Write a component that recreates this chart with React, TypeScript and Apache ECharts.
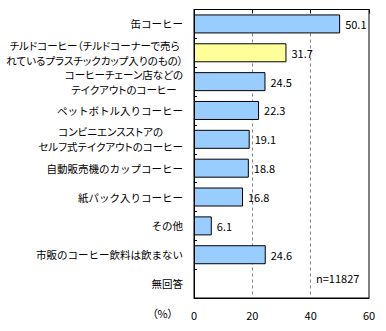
import React, { useEffect, useRef } from "react";
import * as echarts from "echarts";

const categories: string[] = [
  "缶コーヒー",
  "チルドコーヒー（チルドコーナーで売ら\nれているプラスチックカップ入りのもの）",
  "コーヒーチェーン店などの\nテイクアウトのコーヒー",
  "ペットボトル入りコーヒー",
  "コンビニエンスストアの\nセルフ式テイクアウトのコーヒー",
  "自動販売機のカップコーヒー",
  "紙パック入りコーヒー",
  "その他",
  "市販のコーヒー飲料は飲まない",
  "無回答",
];
const values: (number | null)[] = [50.1, 31.7, 24.5, 22.3, 19.1, 18.8, 16.8, 6.1, 24.6, null];
const highlightIndex = 1;
const xTicks = { min: 0, max: 60, interval: 20 };
const unitLabel = "（%）";
const sampleLabel = "n=11827";

const FONT = "'Noto Sans CJK JP', 'Noto Sans', sans-serif";

let measureSpan: HTMLSpanElement | null = null;
function measureText(text: string, font?: string) {
  if (!measureSpan) {
    measureSpan = document.createElement("span");
    const s = measureSpan.style;
    s.position = "absolute";
    s.left = "-9999px";
    s.top = "-9999px";
    s.visibility = "hidden";
    s.whiteSpace = "pre";
    document.body.appendChild(measureSpan);
  }
  measureSpan.style.font = font || "12px sans-serif";
  measureSpan.style.fontFeatureSettings = '"palt"';
  measureSpan.textContent = text;
  return { width: measureSpan.getBoundingClientRect().width };
}

export default function App() {
  const ref = useRef<HTMLDivElement>(null);
  useEffect(() => {
    if (!ref.current) return;
    (echarts as any).setPlatformAPI({ measureText });
    const chart = echarts.init(ref.current, undefined, { renderer: "svg" });
    chart.setOption({
      animation: false,
      textStyle: { fontFamily: FONT },
      grid: {
        left: 194,
        right: 17,
        top: 9.5,
        bottom: 33,
        containLabel: false,
        outerBoundsMode: "none",
        show: true,
        borderColor: "#000",
        borderWidth: 1,
        backgroundColor: "transparent",
      },
      xAxis: [
        {
          type: "value",
          position: "bottom",
          min: xTicks.min,
          max: xTicks.max,
          interval: xTicks.interval,
          axisLine: { show: true, lineStyle: { color: "#000", width: 1 } },
          axisTick: { show: false },
          axisLabel: { color: "#000", fontSize: 11, margin: 11, fontFamily: FONT },
          splitLine: {
            show: true,
            showMinLine: false,
            showMaxLine: false,
            lineStyle: { color: "#808080", type: [3, 3], width: 1 },
          },
        },
        {
          type: "value",
          position: "top",
          min: xTicks.min,
          max: xTicks.max,
          interval: xTicks.interval,
          axisLine: { show: true, lineStyle: { color: "#000", width: 1 } },
          axisTick: { show: true, inside: true, length: 4, lineStyle: { color: "#000" } },
          axisLabel: { show: false },
          splitLine: { show: false },
        },
      ],
      yAxis: {
        type: "category",
        inverse: true,
        data: categories,
        axisLine: { show: true, lineStyle: { color: "#000", width: 1 } },
        axisTick: { show: true, inside: true, length: 3, lineStyle: { color: "#000" } },
        axisLabel: {
          color: "#000",
          fontSize: 10.5,
          margin: 11,
          lineHeight: 15,
          fontFamily: FONT,
          formatter: (v: string) =>
            v.indexOf("\n") >= 0
              ? v
                  .split("\n")
                  .map((l) => "{c|" + l + "}")
                  .join("\n")
              : v,
          rich: {
            c: { align: "center", fontSize: 10.5, lineHeight: 15, color: "#000", fontFamily: FONT },
          },
        },
      },
      series: [
        {
          type: "bar",
          xAxisIndex: 0,
          barWidth: 19,
          data: values.map((v, i) => ({
            value: v,
            itemStyle: { color: i === highlightIndex ? "#FFFF99" : "#99CCFF" },
          })),
          itemStyle: { borderColor: "#000", borderWidth: 1 },
          label: {
            show: true,
            position: "right",
            distance: 5,
            color: "#000",
            fontSize: 11,
            fontFamily: FONT,
            formatter: (p: any) => (p.value == null ? "" : Number(p.value).toFixed(1)),
          },
        },
      ],
      graphic: [
        {
          type: "text",
          left: 152,
          top: 307,
          style: { text: unitLabel, fill: "#000", fontSize: 11, fontFamily: FONT },
        },
        {
          type: "text",
          left: 316,
          top: 272,
          style: { text: sampleLabel, fill: "#000", fontSize: 11, fontFamily: FONT },
        },
      ],
    });
    return () => chart.dispose();
  }, []);
  return (
    <div
      ref={ref}
      style={{
        position: "fixed",
        left: 0,
        top: 0,
        width: 386,
        height: 331,
        background: "#fff",
        fontFeatureSettings: '"palt"',
      }}
    />
  );
}
